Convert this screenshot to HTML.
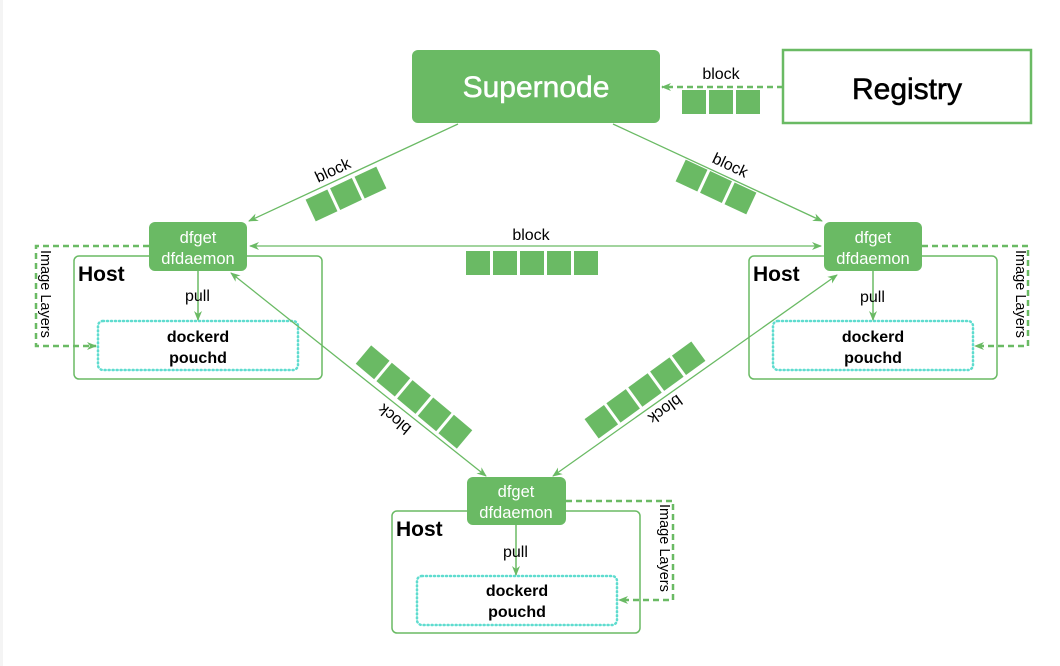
<!DOCTYPE html>
<html><head><meta charset="utf-8"><style>
html,body{margin:0;padding:0;background:#fff;}
svg{display:block;font-family:"Liberation Sans",sans-serif;}
</style></head><body>
<svg width="1060" height="666" viewBox="0 0 1060 666" xmlns="http://www.w3.org/2000/svg">
<defs>
<marker id="ar" markerWidth="10" markerHeight="10" refX="9" refY="5" orient="auto-start-reverse" markerUnits="userSpaceOnUse">
<path d="M0,1 L10,5 L0,9 L3,5 Z" fill="#6aba64"/>
</marker>
<g id="b3"><rect x="-39" y="-12" width="24" height="24"/><rect x="-12" y="-12" width="24" height="24"/><rect x="15" y="-12" width="24" height="24"/></g>
<g id="b5"><rect x="-66" y="-12" width="24" height="24"/><rect x="-39" y="-12" width="24" height="24"/><rect x="-12" y="-12" width="24" height="24"/><rect x="15" y="-12" width="24" height="24"/><rect x="42" y="-12" width="24" height="24"/></g>
</defs>
<rect x="0" y="0" width="3" height="666" fill="#f4f4f4"/>

<g fill="#6aba64" stroke="none">
<rect x="412" y="50" width="248" height="73" rx="6"/>
<rect x="149" y="222" width="98" height="49" rx="6"/>
<rect x="824" y="222" width="98" height="49" rx="6"/>
<rect x="467" y="477" width="99" height="48" rx="6"/>
</g>
<text x="536" y="97" font-size="30" fill="#fff" text-anchor="middle" stroke="#fff" stroke-width="0.5">Supernode</text>
<rect x="783" y="50" width="248" height="73" fill="none" stroke="#6aba64" stroke-width="2.5"/>
<text x="907" y="99" font-size="30" fill="#000" text-anchor="middle" stroke="#000" stroke-width="0.6">Registry</text>

<g font-size="16.5" fill="#fff" text-anchor="middle">
<text x="198" y="243">dfget</text><text x="198" y="264">dfdaemon</text>
<text x="873" y="243">dfget</text><text x="873" y="264">dfdaemon</text>
<text x="516" y="497">dfget</text><text x="516" y="518">dfdaemon</text>
</g>

<g fill="none" stroke="#6aba64" stroke-width="1.5">
<path d="M247,256 H317 a5,5 0 0 1 5,5 V374 a5,5 0 0 1 -5,5 H79 a5,5 0 0 1 -5,-5 V261 a5,5 0 0 1 5,-5 H149"/>
<path d="M922,256 H992 a5,5 0 0 1 5,5 V374 a5,5 0 0 1 -5,5 H754 a5,5 0 0 1 -5,-5 V261 a5,5 0 0 1 5,-5 H824"/>
<path d="M566,511 H635 a5,5 0 0 1 5,5 V628 a5,5 0 0 1 -5,5 H397 a5,5 0 0 1 -5,-5 V516 a5,5 0 0 1 5,-5 H467"/>
</g>
<g font-size="21" font-weight="bold" fill="#000">
<text x="78" y="281">Host</text><text x="753" y="281">Host</text><text x="396" y="536">Host</text>
</g>
<g fill="none" stroke="#5fdccf" stroke-width="2.5" stroke-dasharray="1,3" stroke-linecap="round">
<rect x="98" y="321" width="200" height="49" rx="5"/>
<rect x="773" y="321" width="200" height="49" rx="5"/>
<rect x="417" y="576" width="200" height="49" rx="5"/>
</g>
<g font-size="16" font-weight="bold" fill="#000" text-anchor="middle">
<text x="198" y="342">dockerd</text><text x="198" y="363">pouchd</text>
<text x="873" y="342">dockerd</text><text x="873" y="363">pouchd</text>
<text x="517" y="596">dockerd</text><text x="517" y="617">pouchd</text>
</g>

<g stroke="#6aba64" stroke-width="1.5" fill="none">
<line x1="198" y1="271" x2="198" y2="320" marker-end="url(#ar)"/>
<line x1="873" y1="271" x2="873" y2="320" marker-end="url(#ar)"/>
<line x1="516" y1="525" x2="516" y2="575" marker-end="url(#ar)"/>
</g>
<g font-size="16" fill="#000">
<text x="185" y="301">pull</text><text x="860" y="302">pull</text><text x="503" y="557">pull</text>
</g>

<g stroke="#6aba64" stroke-width="2.5" fill="none" stroke-dasharray="6,4">
<path d="M149,246 H36 V346 H96" marker-end="url(#ar)"/>
<path d="M922,246 H1028 V346 H975" marker-end="url(#ar)"/>
<path d="M566,501 H673 V600 H619" marker-end="url(#ar)"/>
<path d="M783,87 H662" marker-end="url(#ar)"/>
</g>
<g font-size="14.5" fill="#000">
<text transform="translate(41,250) rotate(90)">Image Layers</text>
<text transform="translate(1016,250) rotate(90)">Image Layers</text>
<text transform="translate(660,504) rotate(90)">Image Layers</text>
</g>

<g stroke="#6aba64" stroke-width="1.3" fill="none">
<line x1="458" y1="124" x2="249" y2="221" marker-end="url(#ar)"/>
<line x1="613" y1="124" x2="822" y2="221" marker-end="url(#ar)"/>
<line x1="250" y1="246" x2="821" y2="246" marker-start="url(#ar)" marker-end="url(#ar)"/>
<line x1="231" y1="273" x2="486" y2="476" marker-start="url(#ar)" marker-end="url(#ar)"/>
<line x1="837" y1="275" x2="553" y2="476" marker-start="url(#ar)" marker-end="url(#ar)"/>
</g>

<g fill="#6aba64">
<use href="#b3" transform="translate(721,102)"/>
<use href="#b5" transform="translate(532,263)"/>
<use href="#b3" transform="translate(346,194) rotate(-25)"/>
<use href="#b3" transform="translate(716,187) rotate(25)"/>
<use href="#b5" transform="translate(414,397) rotate(40)"/>
<use href="#b5" transform="translate(645,390) rotate(-36)"/>
</g>
<g font-size="16" fill="#000" text-anchor="middle">
<text x="721" y="79">block</text>
<text x="531" y="240">block</text>
<text transform="translate(335,175) rotate(-25)">block</text>
<text transform="translate(728,170) rotate(25)">block</text>
<text transform="translate(398,415) rotate(220)">block</text>
<text transform="translate(662,405) rotate(144)">block</text>
</g>
</svg>
</body></html>
